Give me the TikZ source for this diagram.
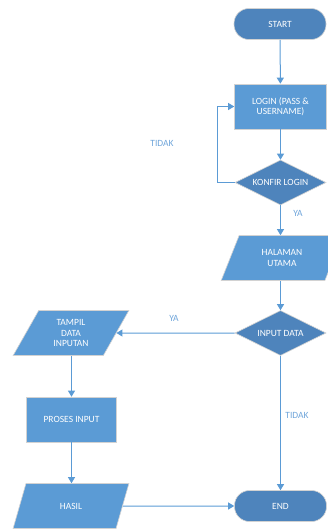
\documentclass[tikz,border=0pt]{standalone}
\usepackage{fontspec}
\setmainfont{Carlito}
\usetikzlibrary{shapes.geometric,arrows.meta}
\definecolor{boxblue}{HTML}{5B9BD5}
\definecolor{darkblue}{HTML}{4E84BC}
\definecolor{lineblue}{HTML}{5B9BD5}
\definecolor{labelblue}{HTML}{6FA5DA}
\begin{document}
\begin{tikzpicture}[x=1pt,y=-1pt,
  base/.style={text=white,font=\fontsize{9.5}{10.5}\selectfont,align=center,inner sep=0pt,draw=gray!35,line width=0.6pt},
  term/.style={base,fill=darkblue,rounded corners=15pt,minimum width=92pt,minimum height=31pt},
  proc/.style={base,fill=boxblue,rectangle,minimum width=92pt,minimum height=45pt},
  decis/.style={base,fill=darkblue,diamond,aspect=2,minimum width=91pt,minimum height=45pt},
  io/.style={base,fill=boxblue,trapezium,trapezium left angle=63,trapezium right angle=117,trapezium stretches=true,minimum width=116pt,minimum height=45pt},
  conn/.style={draw=lineblue,line width=1pt,-{Triangle[length=6pt,width=7pt]}},
  lbl/.style={text=labelblue,font=\fontsize{9.5}{11}\selectfont}
]
\useasboundingbox (0,0) rectangle (328,530);
\node[term] (start) at (280,24) {START};
\node[proc] (login) at (280.5,106.5) {LOGIN (PASS \&\\USERNAME)};
\node[decis] (konfir) at (280.5,182.5) {KONFIR LOGIN};
\node[io,minimum width=122pt] (halaman) at (282,258) {HALAMAN\\UTAMA};
\node[decis] (input) at (280.5,333) {INPUT DATA};
\node[io] (tampil) at (71,333) {TAMPIL\\DATA\\INPUTAN};
\node[proc,minimum width=90pt] (proses) at (71.5,419.5) {PROSES INPUT};
\node[io] (hasil) at (71,506) {HASIL};
\node[term] (end) at (280.5,506) {END};

\coordinate (loopc) at (217,182.5);
\coordinate (loopd) at (217,106.5);

\draw[conn] (start) -- (login);
\draw[conn] (login) -- (konfir);
\draw[conn] (konfir.west) -- (loopc) -- (loopd) -- (login.west);
\draw[conn] (konfir) -- (halaman.north -| konfir);
\draw[conn] (halaman.south -| input) -- (input);
\draw[conn] (input) -- (tampil);
\draw[conn] (tampil.south -| proses) -- (proses);
\draw[conn] (proses) -- (hasil.north -| proses);
\draw[conn] (input) -- (end);
\draw[conn] (hasil) -- (end);

\node[lbl] (tidak1) at (162,143.5) {TIDAK};
\node[lbl] (ya1) at (298,213) {YA};
\node[lbl] (ya2) at (174,318) {YA};
\node[lbl] (tidak2) at (297,415) {TIDAK};
\end{tikzpicture}
\end{document}
